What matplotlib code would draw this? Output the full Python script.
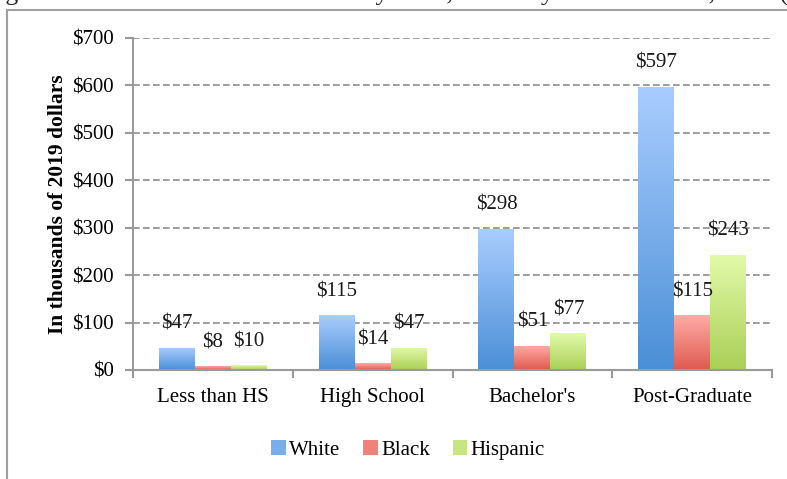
import numpy as np
import matplotlib as mpl
mpl.use("Agg")
import matplotlib.pyplot as plt
from matplotlib.patches import Patch
from matplotlib.lines import Line2D
from matplotlib.colors import LinearSegmentedColormap

plt.rcParams['font.family'] = ['Liberation Serif', 'DejaVu Serif']

# dados do grafico
categorias = ["Less than HS", "High School", "Bachelor's", "Post-Graduate"]
grupos = ["White", "Black", "Hispanic"]
white = [47, 115, 298, 597]
black = [8, 14, 51, 115]
hispanic = [10, 47, 77, 243]
valores = [white, black, hispanic]

# cores (topo, base) do degrade de cada serie
cores = [("#aacdff", "#4a8fd6"), ("#ffaba6", "#df5a4f"), ("#e2fbaa", "#abcf56")]
FS = 15

fig = plt.figure(figsize=(7.87, 4.79), dpi=100)
ax = fig.add_axes([133/787, 109/479, (772-133)/787, (370-38)/479])

x = np.arange(len(categorias))
largura = 0.225
ax.set_xlim(-0.5, 3.5)
ax.set_ylim(0, 700)
ax.set_autoscale_on(False)

grad = np.linspace(1, 0, 256).reshape(-1, 1)
for i, (serie, (topo, base)) in enumerate(zip(valores, cores)):
    cmap = LinearSegmentedColormap.from_list("g%d" % i, [base, topo])
    bars = ax.bar(x + (i - 1) * largura, serie, largura, color=cmap(0.5),
                  zorder=3, linewidth=0)
    for b, v in zip(bars, serie):
        x0, y0 = b.get_x(), b.get_y()
        im = ax.imshow(grad, cmap=cmap, aspect='auto', zorder=3.5,
                       extent=(x0, x0 + b.get_width(), y0, y0 + b.get_height()),
                       vmin=0, vmax=1, interpolation='bilinear')
        im.set_clip_path(b)
        ax.annotate("$%d" % v, (b.get_x() + b.get_width() / 2, v),
                    xytext=(0, 17), textcoords='offset points',
                    ha='center', va='center', fontsize=FS, color="#1a1a1a", zorder=5)

# eixos e grade
ax.set_yticks(np.arange(0, 701, 100))
ax.set_yticklabels(["$%d" % t for t in range(0, 701, 100)], fontsize=FS)
ax.yaxis.grid(True, linestyle=(0, (4, 2)), color="#8c8c8c", linewidth=1.2, zorder=1)
ax.set_xticks(np.arange(-0.5, 3.6, 1))
ax.set_xticklabels([])
ax.set_xticks(x, minor=True)
ax.set_xticklabels(categorias, minor=True, fontsize=FS)
ax.tick_params(axis='x', which='minor', length=0, pad=13)
ax.tick_params(axis='x', which='major', length=6, color="#999999", width=1.5)
ax.tick_params(axis='y', length=6, color="#999999", width=1.5, pad=8)
for s in ["top", "right"]:
    ax.spines[s].set_visible(False)
for s in ["left", "bottom"]:
    ax.spines[s].set_color("#999999")
    ax.spines[s].set_linewidth(1.5)
    ax.spines[s].set_zorder(4)
ax.set_ylabel("In thousands of 2019 dollars", fontsize=15.5, fontweight='bold', labelpad=3)

# legenda
handles = [Patch(facecolor=LinearSegmentedColormap.from_list("l", [b, t])(0.5), label=g)
           for g, (t, b) in zip(grupos, cores)]
fig.legend(handles=handles, loc='center', bbox_to_anchor=(408/787, 29/479), ncol=3,
           frameon=False, fontsize=FS, handlelength=0.7, handleheight=0.7,
           handletextpad=0.15, columnspacing=1.1)

# moldura do grafico e titulo cortado
fig.add_artist(Line2D([7/787, 7/787], [0, 469/479], color="#a0a0a0", linewidth=1.5))
fig.add_artist(Line2D([7/787, 1], [469/479, 469/479], color="#a0a0a0", linewidth=1.5))
fig.text(788/787, 478/479, "Figure 1: Median Household wealth by Race, Ethnicity and Education, 2019 (",
         ha='right', va='baseline', fontsize=18.5, color="#222222")

fig.savefig("out.png", dpi=100)
